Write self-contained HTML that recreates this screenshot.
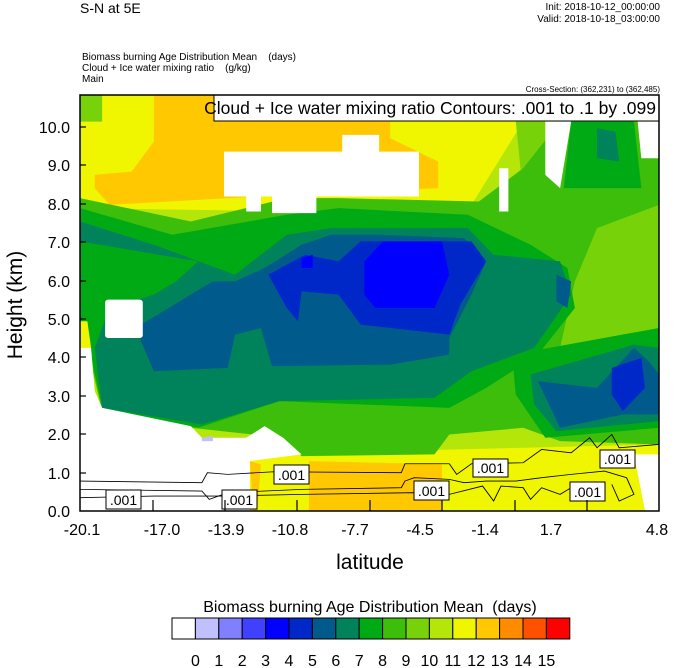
<!DOCTYPE html>
<html><head><meta charset="utf-8"><style>
body{margin:0;background:#fff;width:674px;height:668px;overflow:hidden;font-family:"Liberation Sans",sans-serif}
svg{position:absolute;left:0;top:0}
</style></head><body>
<svg width="674" height="668" xmlns="http://www.w3.org/2000/svg" font-family="Liberation Sans, sans-serif">
<text x="80" y="13" font-size="14">S-N at 5E</text>
<text x="660" y="10" font-size="10" text-anchor="end">Init: 2018-10-12_00:00:00</text>
<text x="660" y="22" font-size="10" text-anchor="end">Valid: 2018-10-18_03:00:00</text>
<text x="82" y="60" font-size="10" style="white-space:pre">Biomass burning Age Distribution Mean    (days)</text>
<text x="82" y="71" font-size="10" style="white-space:pre">Cloud + Ice water mixing ratio    (g/kg)</text>
<text x="82" y="82" font-size="10">Main</text>
<text x="660" y="92" font-size="8" text-anchor="end">Cross-Section: (362,231) to (362,485)</text>
<defs><clipPath id="c"><rect x="0" y="0" width="1568" height="1250"/></clipPath></defs>
<g transform="translate(80,95) scale(0.3693,0.3328)" clip-path="url(#c)">
<rect width="1568" height="1250" fill="#b4e60a"/>
<polygon fill="#f0f500" points="0,0 1200,0 1200,80 1060,330 600,350 0,340"/>
<polygon fill="#f0f500" points="1480,80 1568,80 1568,200 1500,200"/>
<polygon fill="#78d20a" points="0,0 60,0 60,80 0,80"/>
<polygon fill="#f0f500" points="450,1080 1568,1050 1568,1250 450,1250"/>
<polygon fill="#ffc800" points="200,0 840,0 840,130 970,200 970,280 560,300 80,330 40,280 40,240 140,230 200,140"/>
<polygon fill="#ffc800" points="0,470 100,500 180,560 200,600 60,690 0,650"/>
<polygon fill="#ffc800" points="620,1100 980,1110 980,1250 620,1250"/>
<polygon fill="#78d20a" points="1180,80 1568,80 1568,700 1300,760 1120,800 1100,500 1200,300"/>
<polygon fill="#3cbe0a" points="0,310 300,380 560,310 700,310 1080,320 1200,220 1300,80 1540,80 1568,200 1568,330 1400,400 1340,560 1300,760 1568,700 1568,1050 1300,1040 1200,1000 1000,1020 960,1080 600,1085 550,1030 300,1000 60,950 20,760 0,720"/>
<polygon fill="#00aa14" points="0,340 250,420 560,360 700,340 1050,360 1220,450 1320,520 1340,640 1240,780 1100,880 1000,940 540,920 320,1000 60,940 25,760 0,720"/>
<polygon fill="#00aa14" points="1330,80 1500,80 1520,280 1310,280"/>
<polygon fill="#00aa14" points="1170,780 1568,700 1568,1000 1260,1030 1180,900"/>
<polygon fill="#00825a" points="0,380 200,450 420,540 560,420 680,400 810,400 1050,400 1120,480 1300,500 1330,600 1230,760 1060,830 960,910 540,920 330,990 60,940 40,760 80,640 200,600 260,560 320,500 0,440"/>
<polygon fill="#00825a" points="1220,840 1500,750 1568,760 1568,980 1290,1010 1230,930"/>
<polygon fill="#00825a" points="1400,100 1450,110 1460,200 1400,190"/>
<polygon fill="#005a8c" points="500,520 600,450 680,420 810,420 1040,430 1100,500 1060,600 1000,730 1000,780 840,810 520,815 490,700 420,720 400,820 200,830 150,700 360,560 420,560"/>
<polygon fill="#005a8c" points="1240,860 1400,880 1500,760 1540,800 1568,840 1568,960 1470,960 1300,1000"/>
<polygon fill="#005a8c" points="1290,540 1330,560 1320,640 1290,620"/>
<polygon fill="#0028c8" points="510,540 610,480 700,500 760,440 1060,440 1100,500 1030,630 1000,720 760,690 700,600 600,590 590,680 560,640"/>
<polygon fill="#0028c8" points="1440,820 1520,790 1530,880 1470,950 1440,900"/>
<polygon fill="#0000ff" points="770,500 820,440 980,440 1000,540 960,640 800,640 770,600"/>
<polygon fill="#0000ff" points="600,490 630,480 630,520 600,520"/>
<polygon fill="#fff" points="390,170 710,170 710,120 810,120 810,170 918,170 918,305 640,305 640,355 520,355 520,305 490,305 490,350 450,350 450,305 390,305"/>
<rect x="68" y="615" width="102" height="115" rx="8" fill="#fff"/>
<polygon fill="#fff" points="0,700 30,760 40,890 60,940 300,995 330,1030 450,1030 500,995 550,1030 600,1080 460,1100 460,1250 0,1250"/>
<polygon fill="#c0c0ff" points="330,1030 360,1025 360,1040 330,1040"/>
<polygon fill="#fff" points="1260,80 1330,80 1300,280 1260,240"/>
<polygon fill="#fff" points="1510,80 1568,80 1568,190 1520,190"/>
<polygon fill="#fff" points="1135,220 1160,220 1160,350 1135,350"/>
<polygon fill="#fff" points="1500,1080 1568,1080 1568,1250 1530,1250"/>
<polygon fill="#f0f500" points="0,680 20,680 30,760 0,760"/>
<polygon fill="#ffc800" points="460,1100 490,1110 480,1250 470,1250"/>
<g fill="none" stroke="#000" stroke-width="2.5">
<polyline points="0,1160 330,1165 345,1135 400,1140 525,1132 870,1135 880,1108 1000,1108 1020,1140 1060,1108 1200,1105 1250,1065 1330,1075 1380,1030 1400,1060 1440,1020 1460,1060 1568,1050"/>
<polyline points="0,1185 330,1190 350,1215 400,1195 600,1185 870,1180 880,1160 905,1150 1000,1155 1040,1165 1100,1160 1180,1160 1250,1150 1330,1140 1420,1130 1480,1150 1500,1200 1460,1220 1440,1170"/>
<polyline points="0,1210 200,1205 400,1205 600,1200 900,1195 1000,1200 1090,1175 1120,1220 1140,1175 1200,1180 1220,1215 1250,1180 1300,1200 1330,1180 1380,1215 1420,1180"/>
</g>
</g>
<g font-size="14" text-anchor="middle">
<g fill="#fff" stroke="#000" stroke-width="1">
<rect x="106" y="490" width="35" height="19"/><rect x="222" y="490" width="35" height="19"/>
<rect x="274" y="465" width="35" height="19"/><rect x="414" y="481" width="35" height="19"/>
<rect x="473" y="459" width="35" height="18"/><rect x="570" y="482" width="35" height="19"/>
<rect x="600" y="450" width="35" height="18"/>
</g>
<text x="123.5" y="505">.001</text><text x="239.5" y="505">.001</text><text x="291.5" y="480">.001</text>
<text x="431.5" y="496">.001</text><text x="490.5" y="473">.001</text><text x="587.5" y="497">.001</text><text x="617.5" y="464">.001</text>
</g>
<rect x="214" y="95" width="445" height="26" fill="#fff" stroke="#000"/>
<text x="656" y="114" font-size="17.5" text-anchor="end">Cloud + Ice water mixing ratio Contours: .001 to .1 by .099</text>
<rect x="80" y="95" width="579" height="416" fill="none" stroke="#000" stroke-width="1.5"/>
<g stroke="#000" stroke-width="1.2">
<line x1="80" y1="127" x2="86" y2="127"/><line x1="80" y1="165" x2="86" y2="165"/><line x1="80" y1="204" x2="86" y2="204"/><line x1="80" y1="242" x2="86" y2="242"/><line x1="80" y1="281" x2="86" y2="281"/><line x1="80" y1="319" x2="86" y2="319"/><line x1="80" y1="357" x2="86" y2="357"/><line x1="80" y1="396" x2="86" y2="396"/><line x1="80" y1="434" x2="86" y2="434"/><line x1="80" y1="473" x2="86" y2="473"/>
<line x1="153" y1="511" x2="153" y2="500"/><line x1="225" y1="511" x2="225" y2="500"/><line x1="297" y1="511" x2="297" y2="500"/><line x1="370" y1="511" x2="370" y2="500"/><line x1="442" y1="511" x2="442" y2="500"/><line x1="515" y1="511" x2="515" y2="500"/><line x1="587" y1="511" x2="587" y2="500"/>
</g>
<g font-size="16" text-anchor="end">
<text x="70" y="133">10.0</text><text x="70" y="171">9.0</text><text x="70" y="210">8.0</text><text x="70" y="248">7.0</text><text x="70" y="287">6.0</text><text x="70" y="325">5.0</text><text x="70" y="363">4.0</text><text x="70" y="402">3.0</text><text x="70" y="440">2.0</text><text x="70" y="479">1.0</text><text x="70" y="517">0.0</text>
</g>
<g font-size="16" text-anchor="middle">
<text x="82" y="535">-20.1</text><text x="162" y="535">-17.0</text><text x="226" y="535">-13.9</text><text x="290" y="535">-10.8</text><text x="355" y="535">-7.7</text><text x="420" y="535">-4.5</text><text x="485" y="535">-1.4</text><text x="551" y="535">1.7</text><text x="657" y="535">4.8</text>
</g>
<text x="370" y="569" font-size="21" text-anchor="middle">latitude</text>
<text transform="translate(22,305) rotate(-90)" font-size="21" text-anchor="middle">Height (km)</text>
<text x="370" y="612" font-size="16" text-anchor="middle" style="white-space:pre">Biomass burning Age Distribution Mean  (days)</text>
<g stroke="#000" stroke-width="1">
<rect x="172" y="618" width="23.4" height="21" fill="#fff"/>
<rect x="195.4" y="618" width="23.4" height="21" fill="#c0c0ff"/>
<rect x="218.8" y="618" width="23.4" height="21" fill="#8080ff"/>
<rect x="242.2" y="618" width="23.4" height="21" fill="#4040ff"/>
<rect x="265.6" y="618" width="23.4" height="21" fill="#0000ff"/>
<rect x="289" y="618" width="23.4" height="21" fill="#0028c8"/>
<rect x="312.4" y="618" width="23.4" height="21" fill="#005a8c"/>
<rect x="335.8" y="618" width="23.4" height="21" fill="#00825a"/>
<rect x="359.2" y="618" width="23.4" height="21" fill="#00aa14"/>
<rect x="382.6" y="618" width="23.4" height="21" fill="#3cbe0a"/>
<rect x="406" y="618" width="23.4" height="21" fill="#78d20a"/>
<rect x="429.4" y="618" width="23.4" height="21" fill="#b4e60a"/>
<rect x="452.8" y="618" width="23.4" height="21" fill="#f0f500"/>
<rect x="476.2" y="618" width="23.4" height="21" fill="#ffc800"/>
<rect x="499.6" y="618" width="23.4" height="21" fill="#ff8c00"/>
<rect x="523" y="618" width="23.4" height="21" fill="#ff5000"/>
<rect x="546.4" y="618" width="23.4" height="21" fill="#ff0000"/>
</g>
<g font-size="16" text-anchor="middle">
<text x="195.4" y="666">0</text><text x="218.8" y="666">1</text><text x="242.2" y="666">2</text><text x="265.6" y="666">3</text><text x="289" y="666">4</text><text x="312.4" y="666">5</text><text x="335.8" y="666">6</text><text x="359.2" y="666">7</text><text x="382.6" y="666">8</text><text x="406" y="666">9</text><text x="429.4" y="666">10</text><text x="452.8" y="666">11</text><text x="476.2" y="666">12</text><text x="499.6" y="666">13</text><text x="523" y="666">14</text><text x="546.4" y="666">15</text>
</g>
</svg>
</body></html>
